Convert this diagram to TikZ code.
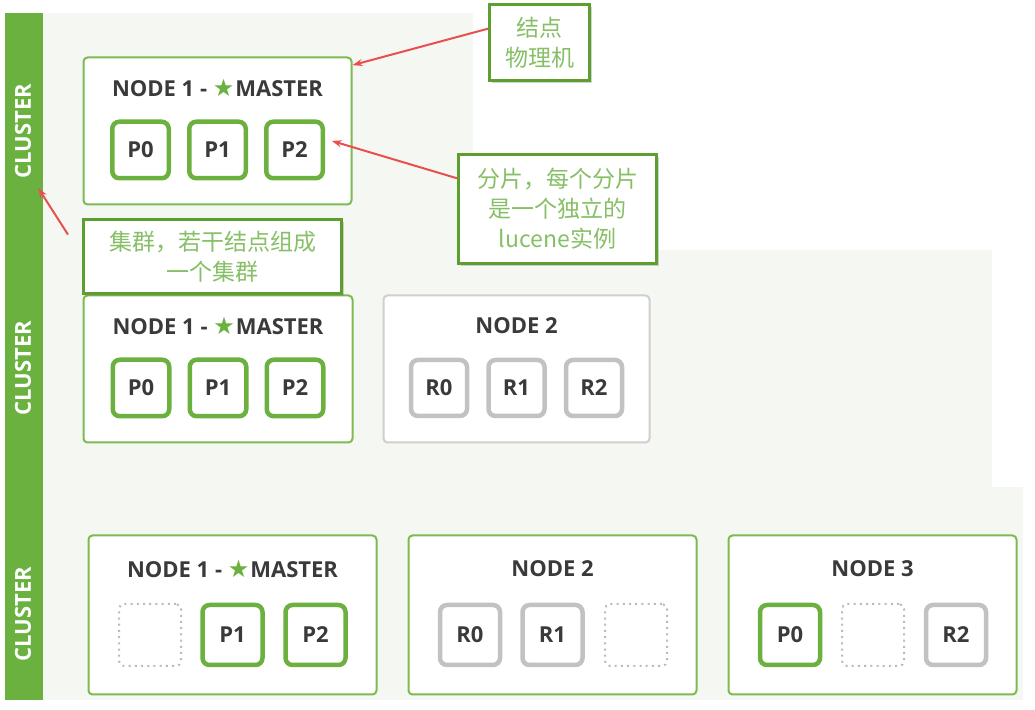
\documentclass[tikz,border=0pt]{standalone}
\usepackage{fontspec}
\setmainfont{Open Sans}
\newfontfamily\cjkfont{Noto Sans CJK SC}
\newfontfamily\symfont{DejaVu Sans}
\usetikzlibrary{arrows.meta,shadows}

\definecolor{clustergreen}{HTML}{6BB13F}
\definecolor{panelbg}{HTML}{F5F7F3}
\definecolor{nodegreen}{HTML}{7DBA52}
\definecolor{nodegray}{HTML}{CFCFCF}
\definecolor{shardgreen}{HTML}{6CB140}
\definecolor{replicagray}{HTML}{C2C2C2}
\definecolor{emptygray}{HTML}{B3C2AA}
\definecolor{notegreen}{HTML}{5C9F2E}
\definecolor{notetext}{HTML}{86BF66}
\definecolor{arrowred}{HTML}{E8504F}
\definecolor{labelgray}{HTML}{3A3A3A}

\newcommand{\masterstar}{{\symfont\color{clustergreen}\fontsize{24bp}{24bp}\selectfont★}\kern1bp}

\begin{document}
\begin{tikzpicture}[>={Stealth[length=10bp,width=7bp]},
  clusterbar/.style={fill=clustergreen,inner sep=0pt,minimum width=38bp},
  clustertag/.style={rotate=90,text=white,font=\bfseries\fontsize{22bp}{24bp}\selectfont},
  machine/.style={draw=nodegreen,line width=2bp,rounded corners=4bp,fill=white,inner sep=0pt},
  title/.style={text=labelgray,font=\bfseries\fontsize{22bp}{24bp}\selectfont},
  primary/.style={draw=shardgreen,line width=4.5bp,rounded corners=7bp,fill=white,inner sep=0pt,
    text=labelgray,font=\bfseries\fontsize{22bp}{24bp}\selectfont},
  replica/.style={primary,draw=replicagray},
  vacant/.style={draw=emptygray,line width=2bp,dash pattern=on 2bp off 4.2bp,rounded corners=5bp,inner sep=0pt},
  note/.style={draw=notegreen,line width=3bp,fill=white,inner sep=0pt,align=center,
    drop shadow={shadow xshift=2.5bp,shadow yshift=-2.5bp,opacity=.35},
    text=notetext,font=\cjkfont\fontsize{23bp}{30bp}\selectfont},
  callout/.style={draw=arrowred,line width=2bp,->},
]
  \useasboundingbox (0bp,0bp) rectangle (1035bp,710bp);
%%
  % Panels
  \fill[panelbg] (43bp,460bp) rectangle (473bp,697bp);
  \fill[panelbg] (43bp,223bp) rectangle (992bp,460bp);
  \fill[panelbg] (43bp,10bp) rectangle (1023bp,223bp);
  % Cluster bars
  \node[clusterbar,minimum height=237bp] (c1bar) at (24bp,578.5bp) {};
  \node[clusterbar,minimum height=237bp] (c2bar) at (24bp,341.5bp) {};
  \node[clusterbar,minimum height=213bp] (c3bar) at (24bp,116.5bp) {};
  \node[clustertag] (c1tag) at (23bp,579bp) {CLUSTER};
  \node[clustertag] (c2tag) at (23bp,342bp) {CLUSTER};
  \node[clustertag] (c3tag) at (23bp,96bp) {CLUSTER};
%
  % Node: top NODE 1
  \node[machine,minimum width=268bp,minimum height=147bp] (t-node1) at (217.5bp,579bp) {};
  \node[title] (t-title1) at (217.5bp,622bp) {NODE 1 - \masterstar MASTER};
  \node[primary,minimum size=56.5bp] (t-p0) at (140.5bp,560bp) {P0};
  \node[primary,minimum size=56.5bp] (t-p1) at (217.5bp,560bp) {P1};
  \node[primary,minimum size=56.5bp] (t-p2) at (294.5bp,560bp) {P2};
%
  % Node: middle NODE 1
  \node[machine,minimum width=269bp,minimum height=147bp] (m-node1) at (218bp,341bp) {};
  \node[title] (m-title1) at (218bp,384bp) {NODE 1 - \masterstar MASTER};
  \node[primary,minimum size=56.5bp] (m-p0) at (141bp,322bp) {P0};
  \node[primary,minimum size=56.5bp] (m-p1) at (218bp,322bp) {P1};
  \node[primary,minimum size=56.5bp] (m-p2) at (295bp,322bp) {P2};
  % Node: middle NODE 2
  \node[machine,draw=nodegray,minimum width=266bp,minimum height=147bp] (m-node2) at (516.5bp,341bp) {};
  \node[title] (m-title2) at (516.5bp,384bp) {NODE 2};
  \node[replica,minimum size=56bp] (m-r0) at (439bp,322bp) {R0};
  \node[replica,minimum size=56bp] (m-r1) at (516.5bp,322bp) {R1};
  \node[replica,minimum size=56bp] (m-r2) at (594bp,322bp) {R2};
%
  % Node: bottom NODE 1
  \node[machine,minimum width=288bp,minimum height=159bp] (b-node1) at (232.5bp,95bp) {};
  \node[title] (b-title1) at (232.5bp,141bp) {NODE 1 - \masterstar MASTER};
  \node[vacant,minimum size=62bp] (b-empty1) at (150bp,75bp) {};
  \node[primary,minimum size=60bp] (b-p1) at (232.5bp,75bp) {P1};
  \node[primary,minimum size=60bp] (b-p2) at (315.5bp,75bp) {P2};
  % Node: bottom NODE 2
  \node[machine,minimum width=288bp,minimum height=159bp] (b-node2) at (552.5bp,95bp) {};
  \node[title] (b-title2) at (552.5bp,141bp) {NODE 2};
  \node[replica,minimum size=60bp] (b-r0) at (470bp,75bp) {R0};
  \node[replica,minimum size=60bp] (b-r1) at (552.5bp,75bp) {R1};
  \node[vacant,minimum size=62bp] (b-empty2) at (636bp,75bp) {};
  % Node: bottom NODE 3
  \node[machine,minimum width=288bp,minimum height=159bp] (b-node3) at (872.5bp,95bp) {};
  \node[title] (b-title3) at (872.5bp,141bp) {NODE 3};
  \node[primary,minimum size=60bp] (b-p0) at (790bp,75bp) {P0};
  \node[vacant,minimum size=62bp] (b-empty3) at (873bp,75bp) {};
  \node[replica,minimum size=60bp] (b-r2) at (956bp,75bp) {R2};
%
  % Notes
  \node[note,minimum width=100bp,minimum height=76bp] (machinenote) at (539.5bp,667.5bp) {结点\\物理机};
  \node[note,minimum width=198bp,minimum height=109bp] (shardnote) at (557.5bp,501bp) {分片，每个分片\\是一个独立的\\lucene实例};
  \node[note,minimum width=258bp,minimum height=74bp] (clusternote) at (212.5bp,453.5bp) {集群，若干结点组成\\一个集群};
%
  % Edge: machinenote -> t-node1
  \draw[callout] (machinenote.165) -- (t-node1.26);
  % Edge: shardnote -> t-p2
  \draw[callout,shorten >=7bp] (shardnote.163) -- (t-p2.20);
  % Edge: clusternote -> c1bar
  \draw[callout,shorten <=26bp] (clusternote.west) -- ([xshift=-5bp,yshift=-56.5bp]c1bar.east);
%
\end{tikzpicture}
\end{document}
